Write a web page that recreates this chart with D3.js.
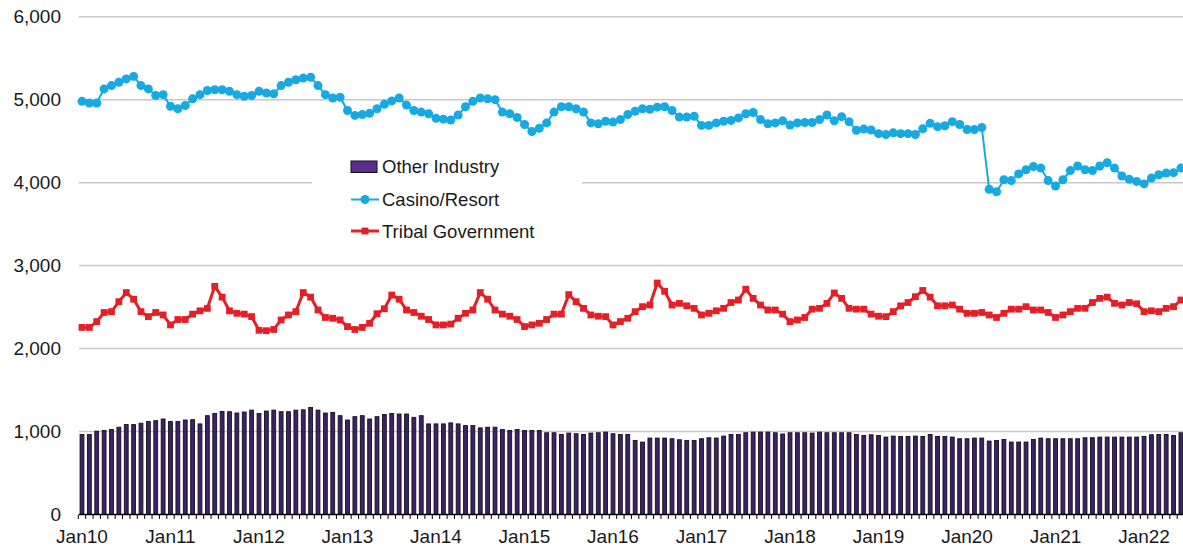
<!DOCTYPE html>
<html>
<head>
<meta charset="utf-8">
<script src="https://cdn.jsdelivr.net/npm/d3@7"></script>
<style>
    body { margin: 0; background: #fff; }
    #chart-area text { font-family: "Liberation Sans", Arial, sans-serif; }
</style>
</head>
<body>
<div id="chart-area"></div>
<script>

// monthly values, Jan 2010 - Jun 2022 (one row per year)
let otherIndustry = [
    965, 965, 1004, 1012, 1024, 1052, 1084, 1084, 1100, 1120, 1131, 1151,
    1120, 1120, 1139, 1143, 1092, 1191, 1218, 1243, 1239, 1223, 1235, 1258,
    1218, 1247, 1258, 1239, 1239, 1258, 1262, 1290, 1258, 1223, 1231, 1191,
    1139, 1179, 1191, 1151, 1179, 1205, 1218, 1211, 1211, 1171, 1191, 1092,
    1092, 1092, 1104, 1092, 1072, 1072, 1044, 1052, 1052, 1024, 1012, 1024,
    1012, 1012, 1012, 985, 985, 965, 981, 973, 965, 981, 985, 993,
    973, 965, 965, 893, 873, 921, 921, 921, 913, 901, 893, 893,
    913, 925, 921, 945, 965, 965, 985, 993, 993, 993, 985, 970,
    985, 985, 985, 981, 993, 985, 985, 985, 985, 965, 953, 961,
    953, 933, 945, 941, 941, 945, 941, 965, 941, 941, 933, 913,
    913, 921, 921, 885, 893, 905, 873, 873, 873, 905, 921, 913,
    913, 913, 913, 913, 925, 925, 933, 933, 933, 933, 933, 933,
    941, 961, 965, 965, 953, 985
];

let casinoResort = [
    4980, 4960, 4960, 5130, 5170, 5210, 5250, 5280, 5170, 5130, 5050, 5060,
    4920, 4890, 4930, 5010, 5060, 5110, 5120, 5120, 5100, 5060, 5040, 5050,
    5100, 5080, 5070, 5170, 5210, 5240, 5260, 5270, 5170, 5060, 5020, 5030,
    4870, 4810, 4820, 4835, 4890, 4945, 4985, 5020, 4935, 4870, 4850, 4830,
    4775, 4765, 4755, 4815, 4915, 4980, 5020, 5010, 5000, 4850, 4830, 4785,
    4700, 4615, 4655, 4720, 4850, 4915, 4915, 4890, 4850, 4720, 4710, 4740,
    4730, 4760, 4820, 4860, 4890, 4885, 4910, 4915, 4870, 4790, 4790, 4800,
    4690, 4690, 4720, 4740, 4750, 4780, 4830, 4845, 4760, 4710, 4720, 4745,
    4695, 4720, 4725, 4725, 4760, 4815, 4745, 4795, 4735, 4630, 4645, 4635,
    4590, 4580, 4600, 4590, 4590, 4580, 4650, 4715, 4675, 4685, 4735, 4700,
    4640, 4640, 4665, 3920, 3890, 4035, 4025, 4105, 4155, 4195, 4175, 4025,
    3960, 4035, 4145, 4200, 4155, 4145, 4200, 4240, 4175, 4080, 4040, 4015,
    3985, 4055, 4095, 4115, 4120, 4175
];

let tribalGovernment = [
    2255, 2255, 2325, 2435, 2445, 2565, 2675, 2595, 2445, 2385, 2435, 2405,
    2285, 2350, 2350, 2415, 2455, 2485, 2750, 2620, 2455, 2425, 2415, 2385,
    2220, 2215, 2230, 2345, 2405, 2445, 2675, 2620, 2465, 2375, 2365, 2345,
    2265, 2230, 2255, 2305, 2420, 2480, 2645, 2595, 2465, 2435, 2390, 2350,
    2285, 2285, 2295, 2365, 2425, 2465, 2675, 2595, 2465, 2415, 2390, 2350,
    2265, 2285, 2305, 2350, 2415, 2415, 2650, 2565, 2485, 2405, 2390, 2385,
    2285, 2325, 2365, 2445, 2505, 2525, 2790, 2690, 2525, 2545, 2515, 2485,
    2405, 2425, 2455, 2485, 2555, 2585, 2715, 2605, 2525, 2465, 2465, 2415,
    2325, 2345, 2375, 2475, 2485, 2545, 2670, 2605, 2485, 2475, 2475, 2415,
    2390, 2385, 2445, 2515, 2555, 2625, 2700, 2620, 2515, 2515, 2525, 2475,
    2425, 2425, 2435, 2405, 2375, 2425, 2475, 2475, 2505, 2465, 2465, 2435,
    2375, 2405, 2445, 2485, 2485, 2555, 2605, 2620, 2545, 2525, 2555, 2540,
    2445, 2455, 2445, 2485, 2505, 2585
];

let yearLabels = ["Jan10", "Jan11", "Jan12", "Jan13", "Jan14", "Jan15", "Jan16",
    "Jan17", "Jan18", "Jan19", "Jan20", "Jan21", "Jan22"];

let yTicks = [0, 1000, 2000, 3000, 4000, 5000, 6000];

let seriesNames = ["Other Industry", "Casino/Resort", "Tribal Government"];


class ComboVis {

    constructor(parentElement) {
        this.parentElement = parentElement;
        this.initVis();
    }

    initVis() {
        let vis = this;

        vis.width = 1183;
        vis.height = 550;

        vis.svg = d3.select("#" + vis.parentElement).append("svg")
            .attr("width", vis.width)
            .attr("height", vis.height);

        vis.wrangleData();
    }

    wrangleData() {
        let vis = this;

        vis.months = d3.timeMonth.range(new Date(2010, 0, 1), new Date(2022, 6, 1));

        vis.displayData = vis.months.map((m, i) => ({
            month: m,
            other: otherIndustry[i],
            casino: casinoResort[i],
            tribal: tribalGovernment[i]
        }));

        vis.updateVis();
    }

    updateVis() {
        let vis = this;

        let fmt = d3.timeFormat("%b%y");

        vis.x = d3.scaleBand()
            .domain(vis.months)
            .range([78.3, 1184.6])
            .paddingInner(0.48)
            .paddingOuter(0.24);

        vis.y = d3.scaleLinear()
            .domain([0, 6000])
            .range([514.5, 16.7]);

        let cx = d => vis.x(d.month) + vis.x.bandwidth() / 2;

        // gridlines
        vis.svg.append("g")
            .attr("class", "grid")
            .selectAll("line")
            .data(yTicks.filter(t => t > 0))
            .enter().append("line")
            .attr("x1", 79)
            .attr("x2", vis.width)
            .attr("y1", d => vis.y(d))
            .attr("y2", d => vis.y(d))
            .attr("stroke", "#c8c8c8")
            .attr("stroke-width", 1.5);

        // bars
        vis.svg.append("g")
            .selectAll("rect")
            .data(vis.displayData)
            .enter().append("rect")
            .attr("x", d => vis.x(d.month))
            .attr("width", vis.x.bandwidth())
            .attr("y", d => vis.y(d.other))
            .attr("height", d => vis.y(0) - vis.y(d.other))
            .attr("fill", "#3e2364")
            .attr("stroke", "#140e1f")
            .attr("stroke-width", 0.9);

        // tribal government line
        let line = key => d3.line()
            .x(cx)
            .y(d => vis.y(d[key]));

        vis.svg.append("path")
            .datum(vis.displayData)
            .attr("d", line("tribal"))
            .attr("fill", "none")
            .attr("stroke", "#e41f26")
            .attr("stroke-width", 3);

        vis.svg.append("g")
            .selectAll("rect")
            .data(vis.displayData)
            .enter().append("rect")
            .attr("x", d => cx(d) - 3.4)
            .attr("y", d => vis.y(d.tribal) - 3.4)
            .attr("width", 6.8)
            .attr("height", 6.8)
            .attr("fill", "#e41f26");

        // casino line
        vis.svg.append("path")
            .datum(vis.displayData)
            .attr("d", line("casino"))
            .attr("fill", "none")
            .attr("stroke", "#17a9e1")
            .attr("stroke-width", 2);

        vis.svg.append("g")
            .selectAll("circle")
            .data(vis.displayData)
            .enter().append("circle")
            .attr("cx", cx)
            .attr("cy", d => vis.y(d.casino))
            .attr("r", 4.5)
            .attr("fill", "#17a9e1");

        // x axis: line, small ticks at month boundaries, Jan labels
        vis.svg.append("line")
            .attr("x1", 79)
            .attr("x2", vis.width)
            .attr("y1", vis.y(0))
            .attr("y2", vis.y(0))
            .attr("stroke", "#000")
            .attr("stroke-width", 1.5);

        let gap = (vis.x.step() - vis.x.bandwidth()) / 2;
        vis.svg.append("g")
            .selectAll("line")
            .data(vis.months)
            .enter().append("line")
            .attr("x1", d => vis.x(d) - gap)
            .attr("x2", d => vis.x(d) - gap)
            .attr("y1", vis.y(0))
            .attr("y2", vis.y(0) + 4.5)
            .attr("stroke", "#000")
            .attr("stroke-width", 1);

        let janMonths = vis.months.filter(m => yearLabels.includes(fmt(m)));

        vis.svg.append("g")
            .attr("class", "x-axis")
            .attr("transform", `translate(0, ${vis.y(0)})`)
            .call(d3.axisBottom(vis.x)
                .tickValues(janMonths)
                .tickSize(0)
                .tickPadding(15)
                .tickFormat(fmt))
            .call(g => g.select(".domain").remove())
            .selectAll("text")
            .attr("font-size", "19px")
            .attr("fill", "#1a1a1a");

        // y axis labels
        vis.svg.append("g")
            .attr("class", "y-axis")
            .attr("transform", "translate(79, 0)")
            .call(d3.axisLeft(vis.y)
                .tickValues(yTicks)
                .tickSize(0)
                .tickPadding(18)
                .tickFormat(d3.format(",")))
            .call(g => g.select(".domain").remove())
            .selectAll("text")
            .attr("font-size", "19px")
            .attr("fill", "#1a1a1a");

        // legend
        vis.legend = vis.svg.append("g")
            .attr("class", "legend");

        vis.legend.append("rect")
            .attr("x", 312)
            .attr("y", 146)
            .attr("width", 270)
            .attr("height", 104)
            .attr("fill", "#fff");

        vis.legend.append("rect")
            .attr("x", 351)
            .attr("y", 161)
            .attr("width", 26)
            .attr("height", 11.5)
            .attr("fill", "#5b2d8e")
            .attr("stroke", "#111")
            .attr("stroke-width", 1);

        vis.legend.append("line")
            .attr("x1", 351).attr("x2", 379)
            .attr("y1", 199.5).attr("y2", 199.5)
            .attr("stroke", "#17a9e1")
            .attr("stroke-width", 2);

        vis.legend.append("circle")
            .attr("cx", 365)
            .attr("cy", 199.5)
            .attr("r", 4.5)
            .attr("fill", "#17a9e1");

        vis.legend.append("line")
            .attr("x1", 351).attr("x2", 379)
            .attr("y1", 231).attr("y2", 231)
            .attr("stroke", "#e41f26")
            .attr("stroke-width", 3);

        vis.legend.append("rect")
            .attr("x", 365 - 3.4)
            .attr("y", 231 - 3.4)
            .attr("width", 6.8)
            .attr("height", 6.8)
            .attr("fill", "#e41f26");

        vis.legend.selectAll("text.label")
            .data(seriesNames)
            .enter().append("text")
            .attr("class", "label")
            .attr("x", 382)
            .attr("y", (d, i) => 173 + i * 32.5)
            .attr("font-size", "18.5px")
            .attr("fill", "#1a1a1a")
            .text(d => d);
    }
}

new ComboVis("chart-area");

</script>
</body>
</html>
